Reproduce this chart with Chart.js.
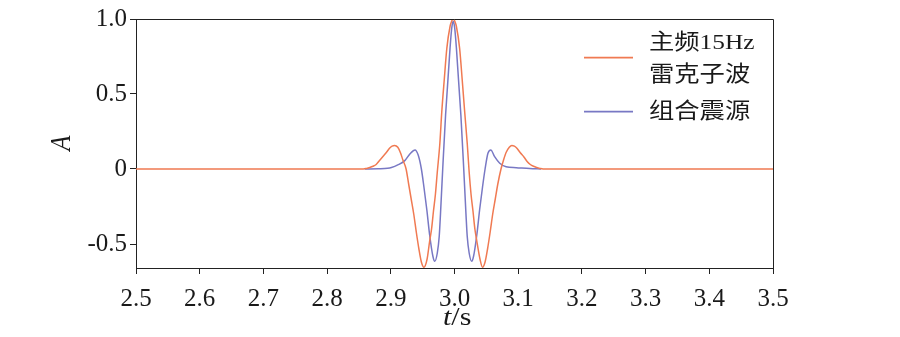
<!DOCTYPE html>
<html><head><meta charset="utf-8">
<script src="https://cdn.jsdelivr.net/npm/chart.js@4.4.0/dist/chart.umd.min.js"></script>
<style>html,body{margin:0;padding:0;background:#fff}canvas{display:block}</style>
</head><body>
<canvas id="c" width="900" height="337"></canvas>
<script>
const xTicks = [2.5, 2.6, 2.7, 2.8, 2.9, 3.0, 3.1, 3.2, 3.3, 3.4, 3.5];
const yTicks = [-0.5, 0, 0.5, 1.0];
const legendLabels = [['主频15Hz', '雷克子波'], ['组合震源']];

const rickerT = [2.500, 2.857, 2.862, 2.867, 2.872, 2.877, 2.882, 2.888, 2.893, 2.898, 2.902, 2.906, 2.911, 2.915, 2.919, 2.924,
  2.928, 2.932, 2.936, 2.940, 2.944, 2.948, 2.952, 2.957, 2.961, 2.964, 2.967, 2.970, 2.973, 2.977, 2.980, 2.984, 2.988, 2.993, 2.9955, 2.998,
  3.0005, 3.003, 3.008, 3.012, 3.016, 3.020, 3.023, 3.026, 3.029, 3.032, 3.035, 3.040, 3.044, 3.048, 3.052, 3.056, 3.060, 3.064, 3.068,
  3.073, 3.077, 3.081, 3.086, 3.090, 3.094, 3.098, 3.103, 3.109, 3.114, 3.119, 3.124, 3.129, 3.134, 3.139, 3.500];
const rickerA = [0, 0, 0.004, 0.01, 0.018, 0.03, 0.055, 0.085, 0.11, 0.138, 0.152, 0.157, 0.145, 0.11, 0.06, 0.0,
  -0.1, -0.2, -0.3, -0.42, -0.53, -0.62, -0.655, -0.6, -0.48, -0.4, -0.28, -0.17, -0.02, 0.17, 0.38, 0.6, 0.806, 0.95, 0.985, 1.0,
  0.985, 0.95, 0.806, 0.6, 0.38, 0.17, -0.02, -0.17, -0.28, -0.4, -0.48, -0.6, -0.655, -0.62, -0.53, -0.42, -0.3, -0.2, -0.1,
  0.0, 0.06, 0.11, 0.145, 0.157, 0.152, 0.138, 0.11, 0.08, 0.05, 0.03, 0.018, 0.01, 0.004, 0, 0];

const comboT = [2.859, 2.880, 2.895, 2.901, 2.911, 2.922, 2.930, 2.938, 2.943, 2.948, 2.952, 2.9565, 2.961, 2.966, 2.969, 2.973, 2.976, 2.978,
  2.9815, 2.986, 2.993, 2.9957, 2.998, 3.0003, 3.003, 3.010, 3.0145, 3.018, 3.020, 3.023, 3.027, 3.030, 3.035, 3.0395, 3.044, 3.048,
  3.0525, 3.057, 3.063, 3.071, 3.081, 3.097, 3.118, 3.136];
const comboA = [0, 0.002, 0.005, 0.01, 0.027, 0.056, 0.1, 0.127, 0.093, 0.0, -0.12, -0.27, -0.44, -0.58, -0.615, -0.56, -0.45, -0.3,
  0.0, 0.36, 0.806, 0.94, 0.985, 0.94, 0.806, 0.36, 0.0, -0.3, -0.45, -0.56, -0.615, -0.58, -0.44, -0.27, -0.12, 0.0,
  0.105, 0.127, 0.082, 0.038, 0.015, 0.009, 0.003, 0];

const ORANGE = '#f07a52';
const BLUE = '#7878c4';
const INK = '#1a1a1a';
const AXIS = '#222';

const toPts = (ts, as) => ts.map((t, i) => ({x: t, y: as[i]}));

const framePlugin = {
  id: 'frame',
  afterDraw(chart) {
    const {ctx, chartArea: a} = chart;
    ctx.save();
    ctx.strokeStyle = AXIS; ctx.lineWidth = 1;
    ctx.beginPath();
    ctx.moveTo(a.left, a.top + 0.5); ctx.lineTo(a.right + 0.5, a.top + 0.5);
    ctx.lineTo(a.right + 0.5, a.bottom);
    ctx.stroke();
    // legend
    const colors = [ORANGE, BLUE];
    const lineY = [57.7, 111.7];
    const textY = [[43, 75], [112]];
    ctx.lineWidth = 1.8;
    ctx.font = '22px "Liberation Serif", "Noto Sans CJK SC"';
    ctx.fillStyle = INK;
    ctx.textBaseline = 'middle';
    ctx.textAlign = 'left';
    legendLabels.forEach((lines, i) => {
      ctx.strokeStyle = colors[i];
      ctx.beginPath(); ctx.moveTo(584, lineY[i]); ctx.lineTo(633, lineY[i]); ctx.stroke();
      lines.forEach((s, j) => {
        ctx.save(); ctx.translate(649, textY[i][j]); ctx.scale(1.15, 1);
        ctx.fillText(s, 0, 0); ctx.restore();
      });
    });
    // axis titles
    ctx.font = 'italic 25px "Liberation Serif"';
    ctx.save(); ctx.translate(62, 143); ctx.rotate(-Math.PI / 2); ctx.scale(1, 1.2);
    ctx.textAlign = 'center'; ctx.fillText('A', 0, 0); ctx.restore();
    ctx.save(); ctx.translate(443, 318); ctx.scale(1.2, 1);
    ctx.textAlign = 'left';
    ctx.font = 'italic 25px "Liberation Serif"';
    ctx.fillText('t', 0, 0);
    const w = ctx.measureText('t').width;
    ctx.font = '25px "Liberation Serif"';
    ctx.fillText('/s', w, 0);
    ctx.restore();
    ctx.restore();
  }
};

new Chart(document.getElementById('c'), {
  type: 'line',
  data: {
    datasets: [
      {label: legendLabels[0].join(''), data: toPts(rickerT, rickerA), borderColor: ORANGE, borderWidth: 1.5,
        pointRadius: 0, cubicInterpolationMode: 'monotone', fill: false},
      {label: legendLabels[1].join(''), data: toPts(comboT, comboA), borderColor: BLUE, borderWidth: 1.5,
        pointRadius: 0, cubicInterpolationMode: 'monotone', fill: false}
    ]
  },
  options: {
    responsive: false, animation: false,
    layout: {padding: {left: 0, right: 127, top: 19, bottom: 0}},
    plugins: {legend: {display: false}, tooltip: {enabled: false}},
    scales: {
      x: {
        type: 'linear', min: 2.5, max: 3.5,
        afterBuildTicks: s => { s.ticks = xTicks.map(v => ({value: v})); },
        afterFit: s => { s.height = 69; },
        grid: {drawOnChartArea: false, drawTicks: true, tickLength: 6, color: AXIS},
        border: {display: true, color: AXIS, width: 1},
        ticks: {color: INK, padding: 10, maxRotation: 0, autoSkip: false,
          font: {family: '"Liberation Serif"', size: 25},
          callback: v => Number(v).toFixed(1)}
      },
      y: {
        type: 'linear', min: -0.66, max: 1.0,
        afterBuildTicks: s => { s.ticks = yTicks.map(v => ({value: v})); },
        afterFit: s => { s.width = 136; },
        grid: {drawOnChartArea: false, drawTicks: true, tickLength: 6, color: AXIS},
        border: {display: true, color: AXIS, width: 1},
        ticks: {color: INK, padding: 3, autoSkip: false,
          font: {family: '"Liberation Serif"', size: 25},
          callback: v => v === 0 ? '0' : Number(v).toFixed(1)}
      }
    }
  },
  plugins: [framePlugin]
});
</script>
</body></html>
